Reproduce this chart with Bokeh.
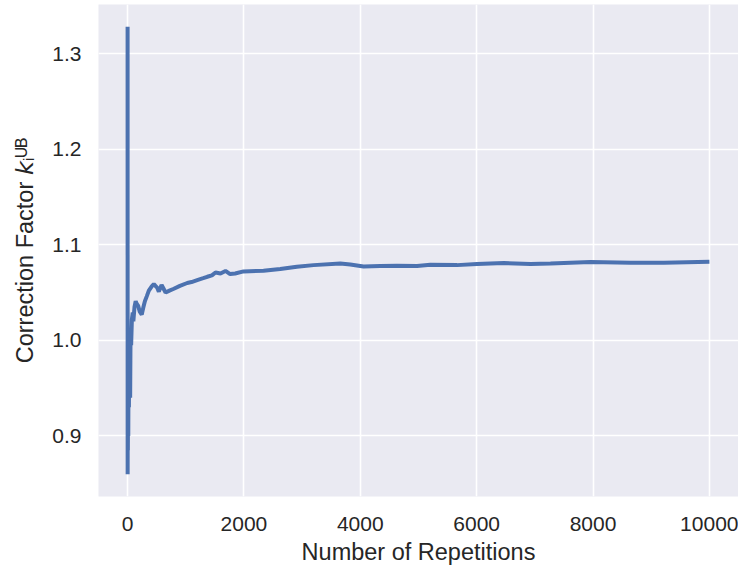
from bokeh.plotting import figure
from bokeh.models import Range1d, FixedTicker, NumeralTickFormatter
from bokeh.embed import file_html
from bokeh.resources import INLINE

# ---- data ----
repetitions = [1, 2, 4, 6, 9, 13, 18, 24, 30, 38, 45, 52, 62, 75, 90, 100, 120, 140,
               160, 184, 210, 244, 270, 298, 330, 366, 410, 452, 480, 510, 538, 585,
               620, 654, 720, 796, 900, 1026, 1100, 1197, 1300, 1370, 1450, 1512, 1598,
               1683, 1763, 1850, 1993, 2337, 2624, 2910, 3197, 3656, 3828, 4057, 4344,
               4631, 4975, 5204, 5663, 6007, 6466, 6925, 7269, 7957, 8645, 9218, 10000]
factor = [1.328, 0.860, 0.975, 0.885, 0.945, 0.900, 0.990, 0.930, 1.000, 0.960, 0.940,
          1.010, 0.995, 1.022, 1.029, 1.020, 1.035, 1.041, 1.038, 1.036, 1.030, 1.027,
          1.034, 1.041, 1.046, 1.052, 1.056, 1.059, 1.057, 1.055, 1.051, 1.058, 1.054,
          1.050, 1.052, 1.054, 1.057, 1.060, 1.061, 1.063, 1.065, 1.0665, 1.068, 1.071,
          1.070, 1.0726, 1.0693, 1.070, 1.0721, 1.0728, 1.0746, 1.0770, 1.0787, 1.0804,
          1.0794, 1.0773, 1.0777, 1.0780, 1.0777, 1.0790, 1.0787, 1.0798, 1.0808,
          1.0798, 1.0804, 1.0819, 1.0812, 1.0812, 1.0822]
x_ticks = [0, 2000, 4000, 6000, 8000, 10000]
y_ticks = [0.9, 1.0, 1.1, 1.2, 1.3]
x_label = "Number of Repetitions"
y_label = "Correction Factor \U0001D62C\u1D62\u1D41\u1D2E"   # k_i^UB

FONT = "Liberation Sans"
TXT = "#262626"

# matplotlib-like 5% margins
xmin, xmax = min(repetitions), max(repetitions)
ymin, ymax = min(factor), max(factor)
xpad = 0.05 * (xmax - xmin)
ypad = 0.05 * (ymax - ymin)

p = figure(width=738, height=567, output_backend="svg", toolbar_location=None,
           x_range=Range1d(xmin - xpad, xmax + xpad),
           y_range=Range1d(ymin - ypad, ymax + ypad),
           min_border_left=98, min_border_right=0, min_border_top=4, min_border_bottom=71)

p.background_fill_color = "#EAEAF2"
p.border_fill_color = "white"
p.outline_line_color = None

for g in (p.xgrid, p.ygrid):
    g.grid_line_color = "white"
    g.grid_line_width = 1.6

p.xaxis.ticker = FixedTicker(ticks=x_ticks)
p.yaxis.ticker = FixedTicker(ticks=y_ticks)
p.xaxis.formatter = NumeralTickFormatter(format="0")
p.yaxis.formatter = NumeralTickFormatter(format="0.0")

for ax in (p.xaxis, p.yaxis):
    ax.axis_line_color = None
    ax.major_tick_line_color = None
    ax.minor_tick_line_color = None
    ax.major_tick_out = 0
    ax.major_tick_in = 0
    ax.major_label_text_font = FONT
    ax.major_label_text_font_size = "21px"
    ax.major_label_text_color = TXT
    ax.axis_label_text_font = FONT
    ax.axis_label_text_font_size = "23.5px"
    ax.axis_label_text_font_style = "normal"
    ax.axis_label_text_color = TXT

p.xaxis.major_label_standoff = 20
p.yaxis.major_label_standoff = 17
p.xaxis.axis_label = x_label
p.xaxis.axis_label_standoff = 5
p.yaxis.axis_label = y_label
p.yaxis.axis_label_standoff = 11

p.line(repetitions, factor, line_width=4, line_color="#4C72B0")

open("out.html", "w").write(file_html(p, INLINE))
